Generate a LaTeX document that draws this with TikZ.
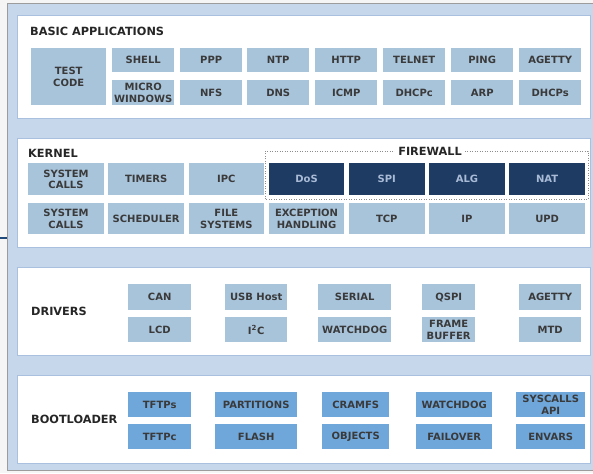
\documentclass[tikz,border=0pt]{standalone}
\usepackage{fontspec}
\setmainfont{DejaVu Sans}
\definecolor{outerblue}{HTML}{C6D6EB}
\definecolor{panelline}{HTML}{A9C1DF}
\definecolor{lightbox}{HTML}{A8C4DB}
\definecolor{darkbox}{HTML}{1E3B63}
\definecolor{darktext}{HTML}{A9BBD6}
\definecolor{bootbox}{HTML}{6FA7DB}
\definecolor{txt}{HTML}{3A3A3A}
\definecolor{framegray}{HTML}{9C9C9C}
\definecolor{stubblue}{HTML}{1E4A7A}
\tikzset{
 boxbase/.style={anchor=north west, inner sep=0pt, align=center,
   font=\bfseries\fontsize{10}{11.5}\selectfont, text=txt},
 lbx/.style={boxbase, fill=lightbox},
 dbx/.style={boxbase, fill=darkbox, text=darktext},
 btx/.style={boxbase, fill=bootbox},
 ttl/.style={anchor=west, inner sep=0pt, font=\bfseries\fontsize{11.3}{13}\selectfont, text=black!85},
 panel/.style={fill=white, draw=panelline, line width=0.8pt},
 fwline/.style={draw=black!45, dash pattern=on 1pt off 1.5pt, line width=0.6pt},
}
\newcommand\Bx[7]{\node[#1, minimum width=#5pt, minimum height=#6pt] (#2) at (#3,#4) {#7};}
\begin{document}
\begin{tikzpicture}[x=1pt,y=-1pt]
\useasboundingbox (0,0) rectangle (593,473);
\fill[black!4] (0,0) rectangle (593,473);
\fill[outerblue] (7.5,3.5) rectangle (593,470.5);
\draw[framegray, line width=1.2pt] (593,3.5) -- (7.5,3.5) -- (7.5,470.5) -- (593,470.5);
\coordinate (stubA) at (0,238);
\coordinate (stubB) at (7,238);
\draw[stubblue, line width=2.8pt] (stubA) -- (stubB);
% panels
\draw[panel] (17,15) rectangle (590,118);
\draw[panel] (17,138) rectangle (590,247);
\draw[panel] (17,267) rectangle (590,355);
\draw[panel] (17,375) rectangle (590,463);
% BASIC APPLICATIONS
\node[ttl] (tapps) at (30,31) {BASIC APPLICATIONS};
\Bx{lbx}{test}{31}{48}{75}{57}{TEST\\CODE}
\Bx{lbx}{shell}{112}{48}{62}{24}{SHELL}
\Bx{lbx}{ppp}{180}{48}{62}{24}{PPP}
\Bx{lbx}{ntp}{247}{48}{62}{24}{NTP}
\Bx{lbx}{http}{315}{48}{62}{24}{HTTP}
\Bx{lbx}{telnet}{383}{48}{62}{24}{TELNET}
\Bx{lbx}{ping}{451}{48}{62}{24}{PING}
\Bx{lbx}{agetty}{519}{48}{62}{24}{AGETTY}
\Bx{lbx}{micro}{112}{80}{62}{25}{MICRO\\WINDOWS}
\Bx{lbx}{nfs}{180}{80}{62}{25}{NFS}
\Bx{lbx}{dns}{247}{80}{62}{25}{DNS}
\Bx{lbx}{icmp}{315}{80}{62}{25}{ICMP}
\Bx{lbx}{dhcpc}{383}{80}{62}{25}{DHCPc}
\Bx{lbx}{arp}{451}{80}{62}{25}{ARP}
\Bx{lbx}{dhcps}{519}{80}{62}{25}{DHCPs}
% KERNEL
\node[ttl] (tkernel) at (28,153) {KERNEL};
\draw[fwline] (265,199) -- (265,151) -- (588,151) -- (588,199) -- cycle;
\node[ttl, anchor=center, fill=white, inner xsep=3pt, inner ysep=1pt] (tfw) at (430,151) {FIREWALL};
\Bx{lbx}{sys1}{28}{163}{75.5}{32}{SYSTEM\\CALLS}
\Bx{lbx}{timers}{108.2}{163}{75.5}{32}{TIMERS}
\Bx{lbx}{ipc}{188.4}{163}{75.5}{32}{IPC}
\Bx{dbx}{dos}{268.6}{163}{75.5}{32}{DoS}
\Bx{dbx}{spi}{348.8}{163}{75.5}{32}{SPI}
\Bx{dbx}{alg}{429}{163}{75.5}{32}{ALG}
\Bx{dbx}{nat}{509.2}{163}{75.5}{32}{NAT}
\Bx{lbx}{sys2}{28}{203}{75.5}{31}{SYSTEM\\CALLS}
\Bx{lbx}{sched}{108.2}{203}{75.5}{31}{SCHEDULER}
\Bx{lbx}{files}{188.4}{203}{75.5}{31}{FILE\\SYSTEMS}
\Bx{lbx}{exc}{268.6}{203}{75.5}{31}{EXCEPTION\\HANDLING}
\Bx{lbx}{tcp}{348.8}{203}{75.5}{31}{TCP}
\Bx{lbx}{ip}{429}{203}{75.5}{31}{IP}
\Bx{lbx}{upd}{509.2}{203}{75.5}{31}{UPD}
% DRIVERS
\node[ttl] (tdrivers) at (31,311) {DRIVERS};
\Bx{lbx}{can}{128}{284}{63}{26}{CAN}
\Bx{lbx}{usb}{225}{284}{62}{26}{USB Host}
\Bx{lbx}{serial}{318}{284}{73}{26}{SERIAL}
\Bx{lbx}{qspi}{422}{284}{53}{26}{QSPI}
\Bx{lbx}{dagetty}{519}{284}{62}{26}{AGETTY}
\Bx{lbx}{lcd}{128}{317}{63}{25}{LCD}
\Bx{lbx}{iic}{225}{317}{62}{25}{I\textsuperscript{2}C}
\Bx{lbx}{dwatch}{318}{317}{73}{25}{WATCHDOG}
\Bx{lbx}{frame}{422}{317}{53}{25}{FRAME\\BUFFER}
\Bx{lbx}{mtd}{519}{317}{62}{25}{MTD}
% BOOTLOADER
\node[ttl] (tboot) at (31,419) {BOOTLOADER};
\Bx{btx}{tftps}{128}{392}{63}{25}{TFTPs}
\Bx{btx}{parts}{215}{392}{82}{25}{PARTITIONS}
\Bx{btx}{cramfs}{322}{392}{67}{25}{CRAMFS}
\Bx{btx}{bwatch}{416}{392}{76}{25}{WATCHDOG}
\Bx{btx}{syscalls}{516}{392}{69}{25}{SYSCALLS\\API}
\Bx{btx}{tftpc}{128}{424}{63}{25}{TFTPc}
\Bx{btx}{flash}{215}{424}{82}{25}{FLASH}
\Bx{btx}{objects}{322}{424}{67}{25}{OBJECTS}
\Bx{btx}{failover}{416}{424}{76}{25}{FAILOVER}
\Bx{btx}{envars}{516}{424}{69}{25}{ENVARS}
\end{tikzpicture}
\end{document}
